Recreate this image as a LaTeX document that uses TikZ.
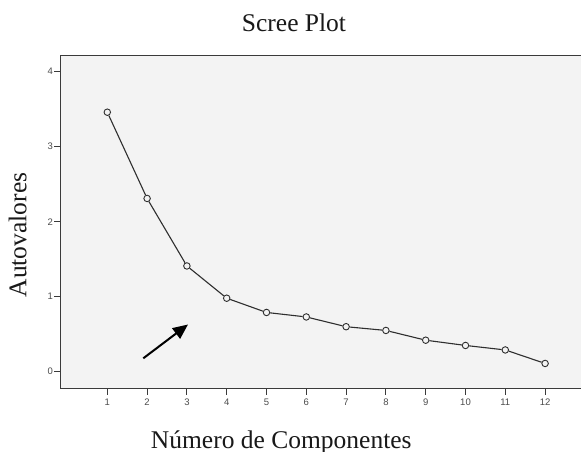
\documentclass[tikz,border=0pt]{standalone}
\usepackage{fontspec}
\setmainfont{Liberation Serif}
\newfontfamily\tickfont{Liberation Sans}
\usetikzlibrary{arrows.meta}
\definecolor{plotbg}{HTML}{F3F3F3}
\definecolor{framec}{HTML}{3A3A3A}
\definecolor{linec}{HTML}{2E2E2E}
\begin{document}
\begin{tikzpicture}[x=1pt,y=-1pt,
  datapt/.style={circle,draw=linec,fill=plotbg,line width=0.9pt,inner sep=0pt,minimum size=6.5pt},
  ticklab/.style={font=\tickfont\fontsize{9.5}{11}\selectfont,text=black!70,inner sep=0pt},
  tickline/.style={draw=framec,line width=0.9pt},
  biglab/.style={font=\fontsize{25.5}{30}\selectfont,text=black!90,inner sep=0pt}]
\useasboundingbox[fill=white] (0,0) rectangle (581,452);
\clip (0,0) rectangle (581,452);
\fill[plotbg] (60.5,55.5) rectangle (590,388);
\draw[framec,line width=1pt] (590,55.5) -- (60.5,55.5) -- (60.5,388) -- (590,388);
% y ticks
\foreach \v in {0,...,4}{
  \draw[tickline] (54,371.7-75*\v) -- (60.5,371.7-75*\v);
  \node[ticklab,anchor=east] (yl\v) at (53,371.7-75*\v) {\v};
}
% x ticks
\foreach \i in {1,...,12}{
  \draw[tickline] (107.3+39.8*\i-39.8,388) -- (107.3+39.8*\i-39.8,395);
  \node[ticklab,anchor=north] (xl\i) at (107.3+39.8*\i-39.8,398.5) {\i};
}
% data points
\foreach \i/\val in {1/3.46,2/2.31,3/1.41,4/0.98,5/0.79,6/0.73,7/0.60,8/0.55,9/0.42,10/0.35,11/0.29,12/0.11}{
  \node[datapt] (p\i) at (107.3+39.8*\i-39.8,371.7-75*\val) {};
}
\draw[linec,line width=1.1pt] (p1) -- (p2) -- (p3) -- (p4) -- (p5) -- (p6) -- (p7) -- (p8) -- (p9) -- (p10) -- (p11) -- (p12);
% arrow
\coordinate (as) at (143.3,358.3);
\coordinate (ae) at (188,324.5);
\draw[black,line width=2pt,-{Triangle[length=15pt,width=13pt]}] (as) -- (ae);
% labels
\node[biglab,anchor=base] (title) at (294,31.5) {Scree Plot};
\node[biglab,anchor=base] (xlab) at (281.3,448) {Número de Componentes};
\node[biglab,anchor=base,rotate=90] (ylab) at (26.5,235) {Autovalores};
\end{tikzpicture}
\end{document}
